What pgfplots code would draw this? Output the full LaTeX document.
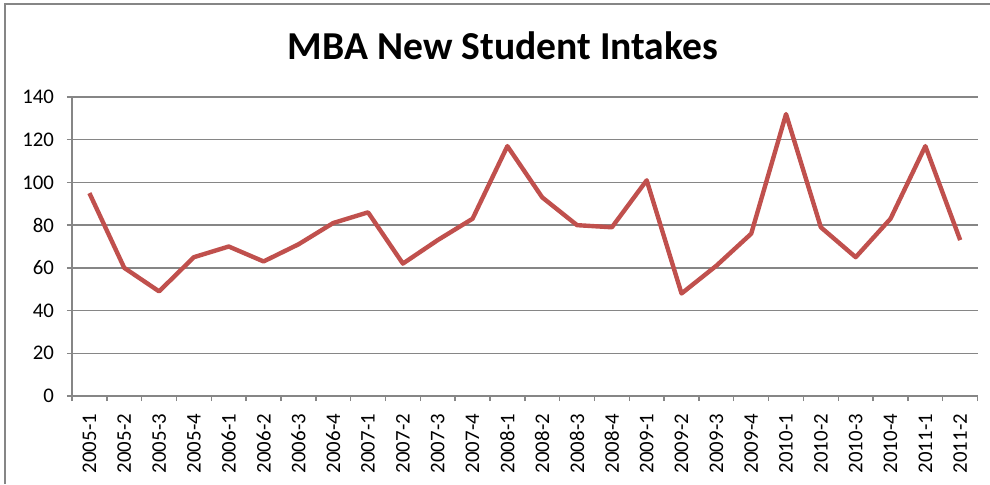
\documentclass[border=0pt]{standalone}
\usepackage{fontspec}
\setmainfont{Carlito}
\usepackage{pgfplots}
\pgfplotsset{compat=1.18}
\definecolor{seriesred}{HTML}{C0504D}
\definecolor{gridgray}{HTML}{868686}

\begin{document}
\begin{tikzpicture}
\useasboundingbox (-36pt,-44pt) rectangle (459pt,198pt);
\draw[gridgray, line width=0.6pt] (-33.5pt,-44pt) -- (-33.5pt,196pt) -- (459pt,196pt);
\begin{axis}[
    at={(0,0)}, anchor=south west,
    scale only axis,
    width=452.8pt, height=149.5pt,
    xmin=-0.5, xmax=25.5,
    ymin=0, ymax=140,
    ytick={0,20,...,140},
    xtick={-0.5,0.5,...,25.5},
    x tick label as interval,
    xticklabels={2005-1,2005-2,2005-3,2005-4,2006-1,2006-2,2006-3,2006-4,
        2007-1,2007-2,2007-3,2007-4,2008-1,2008-2,2008-3,2008-4,
        2009-1,2009-2,2009-3,2009-4,2010-1,2010-2,2010-3,2010-4,2011-1,2011-2},
    xticklabel style={rotate=90, anchor=east, font=\fontsize{10.4}{12}\selectfont},
    xticklabel shift=3pt,
    yticklabel style={font=\fontsize{10.4}{12}\selectfont, xshift=-3pt},
    /pgf/number format/assume math mode=true,
    axis x line*=bottom, axis y line*=left,
    axis line style={gridgray, line width=0.7pt, -},
    tick align=outside,
    major tick length=2.5pt,
    tick style={gridgray, line width=0.7pt},
    ymajorgrids=true,
    grid style={gridgray, line width=0.7pt},
    clip=false,
]
\addplot[color=seriesred, line width=2.2pt, line join=round] coordinates {
    (0,95) (1,60) (2,49) (3,65) (4,70) (5,63) (6,71) (7,81)
    (8,86) (9,62) (10,73) (11,83) (12,117) (13,93) (14,80) (15,79)
    (16,101) (17,48) (18,61) (19,76) (20,132) (21,79) (22,65) (23,83)
    (24,117) (25,73)
};
\end{axis}
\node[anchor=base, font=\fontsize{19.8}{24}\selectfont\bfseries] at (215.5pt,168.5pt) {MBA New Student Intakes};
\end{tikzpicture}
\end{document}
